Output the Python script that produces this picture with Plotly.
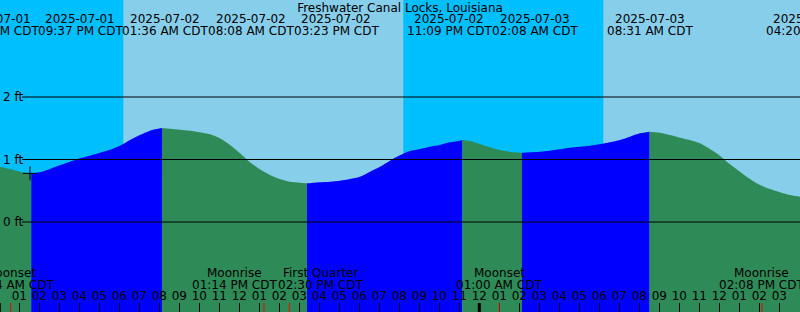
import pandas as pd
import plotly.graph_objects as go

# ---------------- data ----------------
station = "Freshwater Canal Locks, Louisiana"

sample_start = "2025-07-02 00:02"
tide_heights_ft = [
    0.885, 0.848, 0.805, 0.779, 0.795, 0.848, 0.907, 0.965, 1.019, 1.061,
    1.109, 1.157, 1.221, 1.312, 1.392, 1.461, 1.499, 1.493, 1.477, 1.461,
    1.435, 1.403, 1.339, 1.232, 1.099, 0.955, 0.843, 0.752, 0.688, 0.645,
    0.629, 0.621, 0.635, 0.645, 0.661, 0.688, 0.725, 0.805, 0.885, 0.981,
    1.067, 1.136, 1.168, 1.205, 1.232, 1.275, 1.301, 1.296, 1.248, 1.195,
    1.152, 1.125, 1.110, 1.115, 1.125, 1.141, 1.163, 1.189, 1.205, 1.221,
    1.243, 1.275, 1.312, 1.365, 1.419, 1.445, 1.429, 1.392, 1.349, 1.312,
    1.259, 1.168, 1.061, 0.923, 0.805, 0.688, 0.592, 0.528, 0.475, 0.432,
    0.405,
]

extrema_times = ["2025-07-02 01:36", "2025-07-02 08:08", "2025-07-02 15:23",
                 "2025-07-02 23:09", "2025-07-03 02:08", "2025-07-03 08:31",
                 "2025-07-03 16:20"]
extrema_heights = [0.776, 1.504, 0.619, 1.312, 1.109, 1.446, 0.392]

sunset_times = ["2025-07-01 20:12", "2025-07-02 20:12"]
sunrise_times = ["2025-07-02 06:12", "2025-07-03 06:12"]

moon_event_times = ["2025-07-02 00:34", "2025-07-02 13:14", "2025-07-02 14:30",
                    "2025-07-03 01:00", "2025-07-03 14:08"]
moon_event_names = ["Moonset", "Moonrise", "First Quarter", "Moonset", "Moonrise"]
moon_event_labels = ["12:34 AM CDT", "01:14 PM CDT", "02:30 PM CDT",
                     "01:00 AM CDT", "02:08 PM CDT"]

midnight_times = ["2025-07-02 00:00", "2025-07-03 00:00"]

top_dates = ["2025-07-01", "2025-07-01", "2025-07-02", "2025-07-02", "2025-07-02",
             "2025-07-02", "2025-07-03", "2025-07-03", "2025-07-03"]
top_times = ["02:55 PM CDT", "09:37 PM CDT", "01:36 AM CDT", "08:08 AM CDT",
             "03:23 PM CDT", "11:09 PM CDT", "02:08 AM CDT", "08:31 AM CDT",
             "04:20 PM CDT"]

ft_ticks = [0, 1, 2]

now_time = "2025-07-02 01:32"
now_height = 0.778

# ---------------- layout constants ----------------
W, H = 800, 312
FONT = "DejaVu Sans"
DAY = "#87CEEB"
NIGHT = "#00BFFF"
FLOOD = "#0000FF"
EBB = "#2E8B57"
x_range = ["2025-07-02 00:02:06", "2025-07-03 16:02:06"]
y_range = [-1.44, 3.552]
top_label_px = [-4, 80, 165, 251, 336, 449, 535, 650, 808]
moon_label_shift = [0, -29, 31, 0, 0]

# ---------------- build curve ----------------
samples = pd.DataFrame({
    "t": pd.date_range(sample_start, periods=len(tide_heights_ft), freq="30min"),
    "h": tide_heights_ft,
})
ext = pd.DataFrame({"t": pd.to_datetime(extrema_times), "h": extrema_heights})
curve = pd.concat([samples, ext]).sort_values("t").drop_duplicates("t").reset_index(drop=True)

bounds = [curve["t"].iloc[0]] + list(ext["t"])
if curve["t"].iloc[-1] > bounds[-1]:
    bounds.append(curve["t"].iloc[-1])

fig = go.Figure()
bottom = y_range[0] - 1
for t0, t1 in zip(bounds[:-1], bounds[1:]):
    seg = curve[(curve["t"] >= t0) & (curve["t"] <= t1)]
    rising = seg["h"].iloc[-1] > seg["h"].iloc[0]
    fig.add_trace(go.Scatter(x=seg["t"], y=[bottom] * len(seg), mode="lines",
                             line=dict(width=0), hoverinfo="skip", showlegend=False))
    fig.add_trace(go.Scatter(x=seg["t"], y=seg["h"], mode="lines", fill="tonexty",
                             fillcolor=FLOOD if rising else EBB,
                             line=dict(width=0, shape="spline", smoothing=0.8),
                             hoverinfo="skip", showlegend=False))

fig.add_trace(go.Scatter(x=[now_time], y=[now_height], mode="markers",
                         marker=dict(symbol="cross-thin", size=10,
                                     line=dict(color="black", width=1)),
                         showlegend=False, hoverinfo="skip"))

# night shading
for ss, sr in zip(sunset_times, sunrise_times):
    fig.add_shape(type="rect", xref="x", yref="paper", x0=ss, x1=sr, y0=0, y1=1,
                  fillcolor=NIGHT, line=dict(width=0), layer="below")

# height lines and labels
for v in ft_ticks:
    fig.add_shape(type="line", xref="paper", yref="y", x0=22 / W, x1=1, y0=v, y1=v,
                  line=dict(color="black", width=1))
    fig.add_annotation(x=1 / W, y=v, xref="paper", yref="y", text=f"{v} ft",
                       showarrow=False, xanchor="left", yanchor="middle",
                       font=dict(family=FONT, size=12, color="black"))

# moon event ticks and labels
for t, name, lab, sh in zip(moon_event_times, moon_event_names, moon_event_labels,
                            moon_label_shift):
    fig.add_shape(type="line", xref="x", yref="paper", ysizemode="pixel", yanchor=0,
                  x0=t, x1=t, y0=0, y1=9, line=dict(color="red", width=1))
    fig.add_annotation(x=t, y=1 - 273 / H, xref="x", yref="paper", text=name,
                       showarrow=False, xanchor="center", yanchor="middle", xshift=sh,
                       font=dict(family=FONT, size=12, color="black"))
    fig.add_annotation(x=t, y=1 - 285 / H, xref="x", yref="paper", text=lab,
                       showarrow=False, xanchor="center", yanchor="middle", xshift=sh,
                       font=dict(family=FONT, size=12, color="black"))

# midnight ticks (thicker)
for t in midnight_times:
    fig.add_shape(type="line", xref="x", yref="paper", ysizemode="pixel", yanchor=0,
                  x0=t, x1=t, y0=0, y1=9, line=dict(color="black", width=3))

# top tide labels
for px, d, tm in zip(top_label_px, top_dates, top_times):
    fig.add_annotation(x=px / W, y=1 - 19 / H, xref="paper", yref="paper", text=d,
                       showarrow=False, xanchor="center", yanchor="middle",
                       font=dict(family=FONT, size=12, color="black"))
    fig.add_annotation(x=px / W, y=1 - 31.5 / H, xref="paper", yref="paper", text=tm,
                       showarrow=False, xanchor="center", yanchor="middle",
                       font=dict(family=FONT, size=12, color="black"))

fig.update_layout(
    width=W, height=H,
    margin=dict(l=0, r=0, t=0, b=0),
    paper_bgcolor=DAY, plot_bgcolor=DAY,
    title=dict(text=station, x=0.5, xanchor="center", y=1 - 7.5 / H, yanchor="middle",
               font=dict(family=FONT, size=12, color="black")),
    font=dict(family=FONT, size=12, color="black"),
    xaxis=dict(type="date", range=x_range, showgrid=False, zeroline=False,
               showline=False, tickformat="%I", tick0="2025-07-02 00:00",
               dtick=3600000, ticks="inside", ticklen=9, tickwidth=1,
               tickcolor="black", ticklabelposition="inside",
               tickfont=dict(family=FONT, size=12, color="black"), fixedrange=True),
    yaxis=dict(range=y_range, visible=False, fixedrange=True),
    showlegend=False,
)

fig.write_html("out.html")
